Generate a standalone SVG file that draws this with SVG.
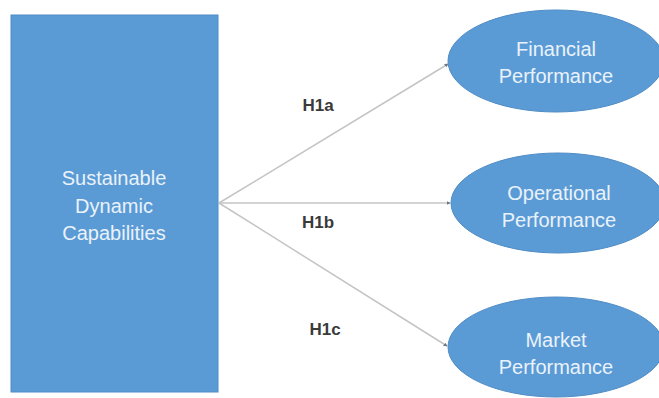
<svg xmlns="http://www.w3.org/2000/svg" width="659" height="398" viewBox="0 0 659 398">
  <defs>
    <style>
      .box { fill: #5b9bd5; stroke: #4f8cc6; stroke-width: 1; }
      .node-text { font-family: "Liberation Sans", Arial, sans-serif; font-size: 20px; fill: #eaf2fb; text-anchor: middle; }
      .edge { stroke: #c4c4c4; stroke-width: 1.5; fill: none; marker-end: url(#tip); }
      .edge-label { font-family: "Liberation Sans", Arial, sans-serif; font-size: 17px; font-weight: bold; fill: #3a3a3a; text-anchor: middle; }
    </style>
    <marker id="tip" viewBox="0 0 6 6" refX="5" refY="3" markerWidth="4" markerHeight="4" orient="auto" markerUnits="userSpaceOnUse">
      <path d="M0,0 L6,3 L0,6 z" fill="#6f7a85"/>
    </marker>
  </defs>

  <rect width="659" height="398" fill="#ffffff"/>

  <!-- connectors -->
  <g id="connectors">
    <line class="edge" x1="219" y1="203" x2="448" y2="64"/>
    <line class="edge" x1="219" y1="203" x2="450" y2="203"/>
    <line class="edge" x1="219" y1="203" x2="447" y2="346"/>
    <text class="edge-label" x="318" y="111">H1a</text>
    <text class="edge-label" x="318" y="228">H1b</text>
    <text class="edge-label" x="325" y="335">H1c</text>
  </g>

  <!-- source construct -->
  <g id="sustainable-dynamic-capabilities">
    <rect class="box" x="11" y="15" width="207" height="377"/>
    <text class="node-text" x="114" y="185">Sustainable</text>
    <text class="node-text" x="114" y="213">Dynamic</text>
    <text class="node-text" x="114" y="240">Capabilities</text>
  </g>

  <!-- outcome constructs -->
  <g id="financial-performance">
    <ellipse class="box" cx="556" cy="61" rx="108" ry="51"/>
    <text class="node-text" x="556" y="56">Financial</text>
    <text class="node-text" x="556" y="83">Performance</text>
  </g>

  <g id="operational-performance">
    <ellipse class="box" cx="558" cy="203" rx="107" ry="50"/>
    <text class="node-text" x="559" y="200">Operational</text>
    <text class="node-text" x="559" y="227">Performance</text>
  </g>

  <g id="market-performance">
    <ellipse class="box" cx="556" cy="347" rx="108" ry="50"/>
    <text class="node-text" x="556" y="347">Market</text>
    <text class="node-text" x="556" y="374">Performance</text>
  </g>
</svg>
